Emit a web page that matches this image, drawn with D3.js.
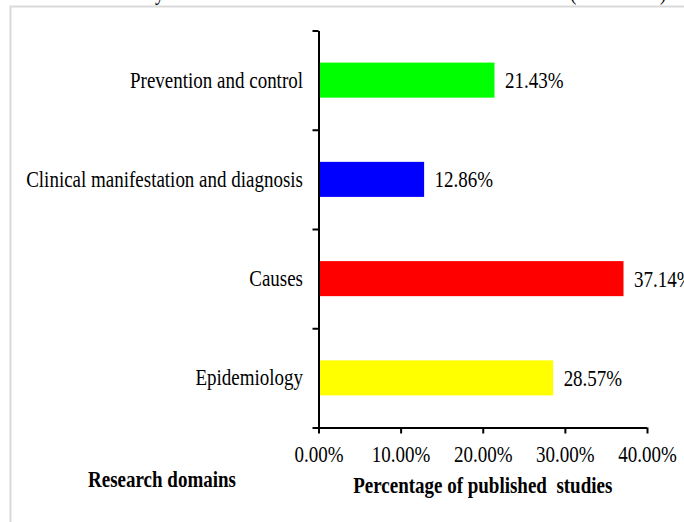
<!DOCTYPE html>
<html>
<head>
<meta charset="utf-8">
<script src="https://cdn.jsdelivr.net/npm/d3@7"></script>
<style>
  html, body { margin: 0; padding: 0; background: #fff; }
  svg { display: block; }
  text { font-family: "Liberation Serif", "DejaVu Serif", serif; fill: #000; }
</style>
</head>
<body>
<svg id="chart" width="684" height="522"></svg>
<script>
// ---- data ----
const categories = ["Prevention and control", "Clinical manifestation and diagnosis", "Causes", "Epidemiology"];
const values = [21.43, 12.86, 37.14, 28.57];
const barColors = ["#00ff00", "#0000ff", "#ff0000", "#ffff00"];
const xTicks = [0, 10, 20, 30, 40];
const xTickLabels = ["0.00%", "10.00%", "20.00%", "30.00%", "40.00%"];
const yAxisTitle = "Research domains";
const xAxisTitle = "Percentage of published  studies";

// ---- layout ----
const W = 684, H = 522;
const plot = { left: 318.5, right: 647, top: 30.5, bottom: 427.5 };
const FS = 19, SY = 1.2;
const FONT = "'Liberation Serif', 'DejaVu Serif', serif";

const svg = d3.select("#chart");

// frame border (page frame of source)
svg.append("path")
  .attr("d", `M10.5,${H} L10.5,6.5 L${W},6.5`)
  .attr("fill", "none")
  .attr("stroke", "#d9d9d9")
  .attr("stroke-width", 2);

// cut-off caption remnants above frame (as in the reference)
const capG = svg.append("g").attr("font-size", FS).attr("font-family", FONT);
[["y", 155], ["(", 570], [")", 660]].forEach(([t, xx]) => {
  capG.append("text").attr("transform", `translate(${xx},0) scale(1,${SY})`).text(t);
});

const x = d3.scaleLinear().domain([0, 40]).range([plot.left, plot.right]);
const y = d3.scaleBand().domain(categories).range([plot.top, plot.bottom])
  .paddingInner(0.647).paddingOuter(0.3235);
const yEdges = d3.scaleLinear().domain([0, categories.length]).range([plot.bottom, plot.top]);

// bars
svg.append("g").selectAll("rect")
  .data(categories)
  .join("rect")
  .attr("x", x(0))
  .attr("y", d => y(d))
  .attr("width", (d, i) => x(values[i]) - x(0))
  .attr("height", y.bandwidth())
  .attr("fill", (d, i) => barColors[i]);

// y axis with ticks at band edges
const yAxisG = svg.append("g")
  .attr("transform", `translate(${plot.left},0)`)
  .call(d3.axisLeft(yEdges).tickValues(d3.range(categories.length + 1)).tickSize(6).tickSizeOuter(0).tickFormat(""));
yAxisG.selectAll("line, path").attr("stroke", "#000").attr("stroke-width", 2);

// category labels
svg.append("g").attr("font-size", FS).attr("font-family", FONT).attr("text-anchor", "end")
  .selectAll("text")
  .data(categories)
  .join("text")
  .attr("transform", d => `translate(303,${y(d) + y.bandwidth() / 2 + 7.5}) scale(1,${SY})`)
  .text(d => d);

// x axis
const xAxisG = svg.append("g")
  .attr("transform", `translate(0,${plot.bottom})`)
  .call(d3.axisBottom(x).tickValues(xTicks).tickSizeInner(6).tickSizeOuter(0)
    .tickFormat((d, i) => xTickLabels[i]));
xAxisG.selectAll("line, path").attr("stroke", "#000").attr("stroke-width", 2);
xAxisG.select(".domain").attr("d", `M${plot.left - 5},0.5H${plot.right}`);
xAxisG.selectAll(".tick text")
  .attr("y", null).attr("dy", null)
  .attr("font-size", FS)
  .attr("font-family", FONT)
  .attr("fill", "#000")
  .attr("transform", `translate(0,34) scale(1,${SY})`);

// value labels
svg.append("g").attr("font-size", FS).attr("font-family", FONT)
  .selectAll("text")
  .data(categories)
  .join("text")
  .attr("transform", (d, i) => `translate(${x(values[i]) + 10.5},${y(d) + y.bandwidth() / 2 + 8}) scale(1,${SY})`)
  .text((d, i) => values[i].toFixed(2) + "%");

// axis titles
svg.append("text")
  .attr("font-size", FS).attr("font-family", FONT).attr("font-weight", "bold").attr("text-anchor", "middle")
  .attr("transform", `translate(162,486.5) scale(1,${SY})`)
  .text(yAxisTitle);
svg.append("text")
  .attr("font-size", FS).attr("font-family", FONT).attr("font-weight", "bold").attr("text-anchor", "middle")
  .style("white-space", "pre")
  .attr("transform", `translate(${(plot.left + plot.right) / 2},493.3) scale(1,${SY})`)
  .text(xAxisTitle);
</script>
</body>
</html>
